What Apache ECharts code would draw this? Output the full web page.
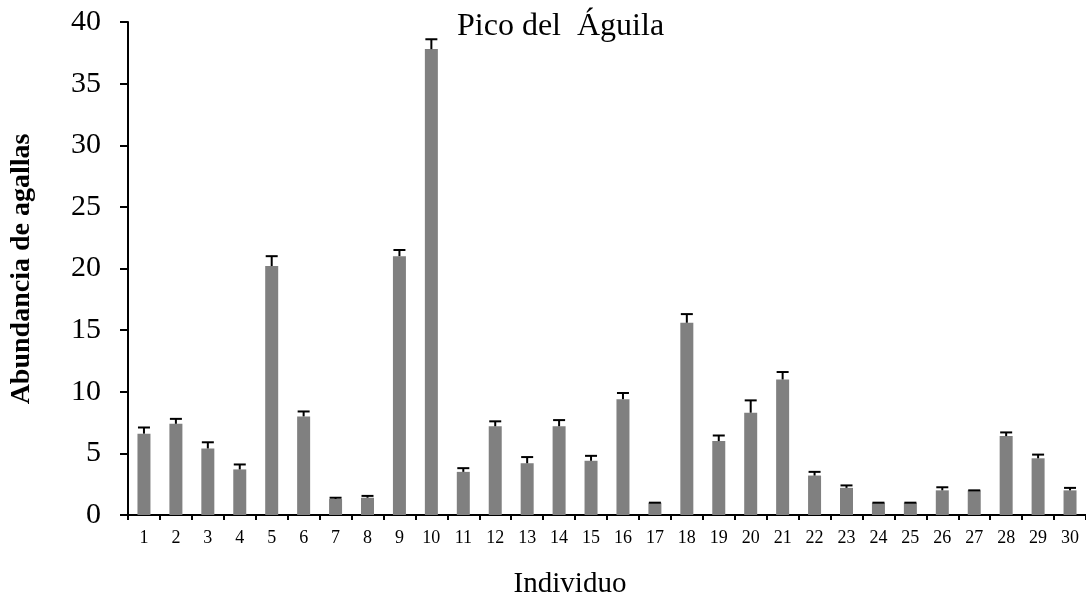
<!DOCTYPE html>
<html>
<head>
<meta charset="utf-8">
<title>Pico del Águila</title>
<script src="https://cdn.jsdelivr.net/npm/echarts@6/dist/echarts.min.js"></script>
<style>
  html, body { margin: 0; padding: 0; background: #fff; }
  #chart { width: 1086px; height: 611px; }
</style>
</head>
<body>
<div id="chart"></div>
<script>
// Individuals sampled at Pico del Águila
const individuos = ['1','2','3','4','5','6','7','8','9','10','11','12','13','14','15',
                    '16','17','18','19','20','21','22','23','24','25','26','27','28','29','30'];
// Mean gall abundance per individual
const abundancia = [6.6, 7.4, 5.4, 3.7, 20.2, 8.0, 1.3, 1.4, 21.0, 37.8,
                    3.5, 7.2, 4.2, 7.2, 4.4, 9.4, 1.0, 15.6, 6.0, 8.3,
                    11.0, 3.2, 2.2, 1.0, 1.0, 2.0, 2.0, 6.4, 4.6, 2.0];
// Standard error (drawn upward only)
const errorEstandar = [0.5, 0.4, 0.5, 0.4, 0.8, 0.4, 0.1, 0.15, 0.5, 0.8,
                       0.3, 0.4, 0.5, 0.5, 0.4, 0.5, 0.0, 0.7, 0.45, 1.0,
                       0.6, 0.3, 0.2, 0.0, 0.0, 0.25, 0.0, 0.3, 0.3, 0.2];
const yTicks = { min: 0, max: 40, interval: 5 };

const serif = '"Liberation Serif", "Times New Roman", serif';
const chart = echarts.init(document.getElementById('chart'), null, { renderer: 'canvas' });

const errData = abundancia.map((v, i) => [i, v, v + errorEstandar[i]]);

chart.setOption({
  animation: false,
  backgroundColor: '#ffffff',
  grid: { left: 128, right: 0, top: 22, bottom: 96, containLabel: false },
  xAxis: {
    type: 'category',
    data: individuos,
    boundaryGap: true,
    axisLine: { lineStyle: { color: '#000', width: 2 } },
    axisTick: { show: true, length: 5, lineStyle: { color: '#000', width: 2 } },
    axisLabel: { color: '#000', fontFamily: serif, fontSize: 18, margin: 14, interval: 0 }
  },
  yAxis: {
    type: 'value',
    min: yTicks.min, max: yTicks.max, interval: yTicks.interval,
    splitLine: { show: false },
    axisLine: { show: true, lineStyle: { color: '#000', width: 2 } },
    axisTick: { show: true, length: 8, lineStyle: { color: '#000', width: 2 } },
    axisLabel: { color: '#000', fontFamily: serif, fontSize: 30, margin: 27 }
  },
  series: [
    {
      type: 'bar',
      data: abundancia,
      barWidth: 13,
      itemStyle: { color: '#808080' }
    },
    {
      type: 'custom',
      data: errData,
      z: 5,
      renderItem: function (params, api) {
        const base = api.coord([api.value(0), api.value(1)]);
        const top = api.coord([api.value(0), api.value(2)]);
        const half = 6;
        const style = { stroke: '#000', lineWidth: 2 };
        return {
          type: 'group',
          children: [
            { type: 'line', shape: { x1: base[0], y1: base[1], x2: top[0], y2: top[1] }, style: style },
            { type: 'line', shape: { x1: top[0] - half, y1: top[1], x2: top[0] + half, y2: top[1] }, style: style }
          ]
        };
      }
    }
  ],
  graphic: [
    {
      type: 'text', left: 457, top: 11,
      style: { text: 'Pico del  Águila', font: '32px ' + serif, fill: '#000' }
    },
    {
      type: 'text', x: 22, y: 269, rotation: Math.PI / 2,
      style: { text: 'Abundancia de agallas', font: 'bold 28px ' + serif, fill: '#000',
               align: 'center', verticalAlign: 'middle' }
    },
    {
      type: 'text', x: 570, y: 584,
      style: { text: 'Individuo', font: '29px ' + serif, fill: '#000',
               align: 'center', verticalAlign: 'middle' }
    }
  ]
});
</script>
</body>
</html>
